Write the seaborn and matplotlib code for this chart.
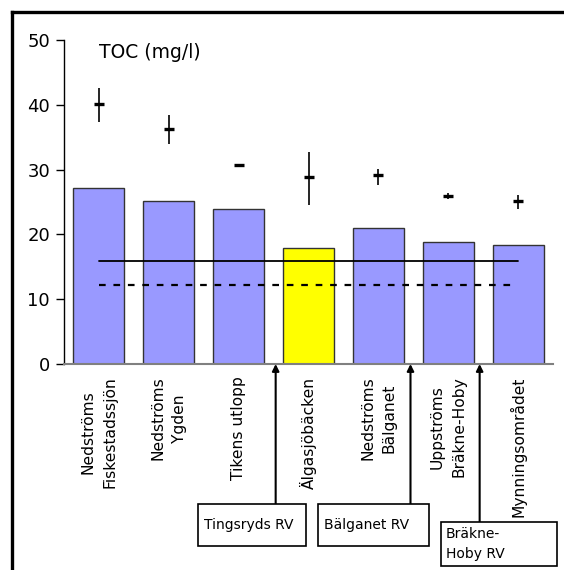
import matplotlib
matplotlib.use("Agg")
import matplotlib.pyplot as plt
from matplotlib.patches import Rectangle
from matplotlib.lines import Line2D
import seaborn as sns
import pandas as pd

# Sampling stations along the river, upstream to downstream
stations = [
    "Nedströms\nFiskestadssjön",
    "Nedströms\nYgden",
    "Tikens utlopp",
    "Älgasjöbäcken",
    "Nedströms\nBälganet",
    "Uppströms\nBräkne-Hoby",
    "Mynningsområdet",
]
toc_values = [27.1, 25.2, 23.9, 17.9, 21.0, 18.9, 18.4]
bar_colors = ["#9999FF", "#9999FF", "#9999FF", "#FFFF00", "#9999FF", "#9999FF", "#9999FF"]

# Comparison values with their ranges, one per station
ref_mean = [40.1, 36.2, 30.7, 28.9, 29.1, 25.9, 25.2]
ref_low = [37.3, 33.9, 30.5, 24.5, 27.6, 25.5, 23.9]
ref_high = [42.6, 38.5, 30.9, 32.7, 30.1, 26.4, 26.1]

# Horizontal reference levels
solid_level = 15.9
dashed_level = 12.2

# Treatment plants discharging between stations
plants = ["Tingsryds RV", "Bälganet RV", "Bräkne-\nHoby RV"]
plant_positions = [2.53, 4.46, 5.45]

sns.set_theme(style="white")
plt.rcParams["font.family"] = ["DejaVu Sans"]
plt.rcParams["text.color"] = "black"
plt.rcParams["xtick.color"] = "black"
plt.rcParams["ytick.color"] = "black"
plt.rcParams["axes.labelcolor"] = "black"

W, H = 564, 570
fig = plt.figure(figsize=(W / 100, H / 100), dpi=100)
ax = fig.add_axes([64 / W, 1 - 364 / H, (553 - 64) / W, (364 - 40) / H])

df = pd.DataFrame({"station": stations, "toc": toc_values})
sns.barplot(data=df, x="station", y="toc", hue="station", palette=bar_colors,
            legend=False, width=0.73, edgecolor="#333333", linewidth=1.0,
            saturation=1, ax=ax)

x = list(range(len(stations)))
yerr = [[m - lo for m, lo in zip(ref_mean, ref_low)],
        [hi - m for m, hi in zip(ref_mean, ref_high)]]
ax.errorbar(x, ref_mean, yerr=yerr, fmt="_", color="black", ecolor="black",
            elinewidth=1.2, capsize=0, markersize=6.5, markeredgewidth=2.4,
            zorder=5)

ax.plot([0, 6], [solid_level] * 2, color="black", lw=1.3, zorder=4)
ax.plot([0, 5.95], [dashed_level] * 2, color="black", lw=1.6,
        linestyle=(0, (3, 3.5)), zorder=4)

ax.set_xlim(-0.5, 6.5)
ax.set_ylim(0, 50)
ax.set_yticks([0, 10, 20, 30, 40, 50])
ax.set_xlabel("")
ax.set_ylabel("")
ax.set_xticks(x)
ax.set_xticklabels(stations, rotation=90, fontsize=11.2, ha="center", va="top",
                   multialignment="center", linespacing=1.55)
ax.tick_params(axis="x", length=0, pad=9)
ax.tick_params(axis="y", length=6, width=1, direction="out", labelsize=13,
               pad=4, left=True, color="black")
for side in ["top", "right"]:
    ax.spines[side].set_visible(False)
ax.spines["left"].set_color("black")
ax.spines["left"].set_linewidth(1.0)
ax.spines["bottom"].set_color("#808080")
ax.spines["bottom"].set_linewidth(1.5)
ax.grid(False)

ax.text(0.0, 48.0, "TOC (mg/l)", fontsize=13.5, ha="left", va="center")

# Plant boxes below the axis, connected to the river line by arrows
boxes = [(198, 504, 306, 546), (318, 504, 429, 546), (441, 522, 557, 566)]
for name, pos, (x0, y0, x1, y1) in zip(plants, plant_positions, boxes):
    fig.add_artist(Rectangle((x0 / W, 1 - y1 / H), (x1 - x0) / W, (y1 - y0) / H,
                             transform=fig.transFigure, facecolor="white",
                             edgecolor="black", lw=1.2, zorder=3))
    lines = name.count("\n") + 1
    if lines == 1:
        fig.text((x0 + 6) / W, 1 - (y0 + y1) / 2 / H, name, fontsize=10,
                 ha="left", va="center")
    else:
        fig.text((x0 + 5) / W, 1 - (y0 + y1) / 2 / H, name, fontsize=10,
                 ha="left", va="center", linespacing=1.5)
    ax.annotate("", xy=(pos, 0), xycoords="data",
                xytext=(pos, 1 - y0 / H), textcoords=("data", "figure fraction"),
                arrowprops=dict(arrowstyle="-|>", color="black", lw=1.5,
                                mutation_scale=10, shrinkA=0, shrinkB=0),
                annotation_clip=False)

# Outer frame: only its top and left edges fall inside the image
fig.add_artist(Line2D([12 / W, 12 / W], [0, 1 - 12 / H],
                      transform=fig.transFigure, color="black", lw=2.4,
                      solid_capstyle="projecting"))
fig.add_artist(Line2D([12 / W, 1], [1 - 12 / H, 1 - 12 / H],
                      transform=fig.transFigure, color="black", lw=2.4,
                      solid_capstyle="projecting"))

fig.savefig("out.png", dpi=100)
